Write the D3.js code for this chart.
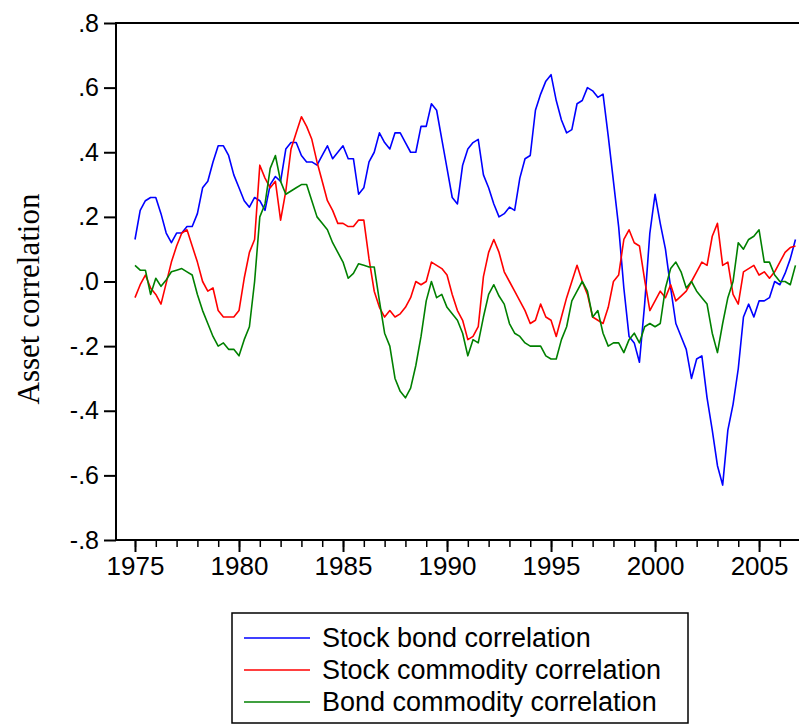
<!DOCTYPE html>
<html>
<head>
<meta charset="utf-8">
<script src="https://cdn.jsdelivr.net/npm/d3@7"></script>
<style>
  body { margin: 0; background: #fff; }
  svg { display: block; }
</style>
</head>
<body>
<script>
// quarterly readings, first value is 1975 Q1
const startYear = 1975;
const stockBond = [
  0.13, 0.22, 0.25, 0.26,  0.26, 0.21, 0.15, 0.12,  0.15, 0.15, 0.17, 0.17,
  0.21, 0.29, 0.31, 0.37,  0.42, 0.42, 0.39, 0.33,  0.29, 0.25, 0.23, 0.26,
  0.25, 0.22, 0.30, 0.325, 0.31, 0.41, 0.43, 0.43,  0.39, 0.37, 0.37, 0.36,
  0.39, 0.42, 0.38, 0.40,  0.42, 0.38, 0.38, 0.27,  0.29, 0.37, 0.40, 0.46,
  0.43, 0.41, 0.46, 0.46,  0.43, 0.40, 0.40, 0.48,  0.48, 0.55, 0.53, 0.44,
  0.35, 0.26, 0.24, 0.36,  0.41, 0.43, 0.44, 0.33,  0.29, 0.24, 0.20, 0.21,
  0.23, 0.22, 0.32, 0.38,  0.39, 0.53, 0.58, 0.62,  0.64, 0.56, 0.50, 0.46,
  0.47, 0.55, 0.56, 0.60,  0.59, 0.57, 0.58, 0.45,  0.31, 0.17, -0.02, -0.17,
  -0.19, -0.25, -0.07, 0.15,  0.27, 0.18, 0.10, -0.02,  -0.13, -0.17, -0.21, -0.30,
  -0.24, -0.23, -0.36, -0.46,  -0.57, -0.63, -0.46, -0.38,  -0.27, -0.11, -0.07, -0.11,
  -0.06, -0.06, -0.05, 0.0,  -0.01, 0.025, 0.07, 0.13
];
const stockCommodity = [
  -0.05, -0.01, 0.02, -0.02,  -0.04, -0.07, -0.005, 0.06,  0.11, 0.15, 0.16, 0.11,
  0.06, 0.0, -0.03, -0.02,  -0.09, -0.11, -0.11, -0.11,  -0.09, 0.01, 0.09, 0.13,
  0.36, 0.32, 0.29, 0.31,  0.19, 0.28, 0.41, 0.46,  0.51, 0.48, 0.44, 0.37,
  0.31, 0.25, 0.22, 0.18,  0.18, 0.17, 0.17, 0.19,  0.19, 0.07, -0.03, -0.08,
  -0.11, -0.09, -0.11, -0.10,  -0.08, -0.05, 0.0, -0.01,  0.0, 0.06, 0.05, 0.04,
  0.02, -0.04, -0.09, -0.12,  -0.18, -0.17, -0.14, 0.015,  0.09, 0.13, 0.09, 0.03,
  0.0, -0.03, -0.06, -0.09,  -0.13, -0.12, -0.07, -0.11,  -0.12, -0.17, -0.11, -0.05,
  0.0, 0.05, 0.0, -0.04,  -0.11, -0.12, -0.13, -0.08,  0.0, 0.02, 0.13, 0.16,
  0.12, 0.11, 0.005, -0.09,  -0.06, -0.03, -0.05, -0.01,  -0.06, -0.045, -0.03, 0.0,
  0.03, 0.06, 0.05, 0.14,  0.18, 0.05, 0.06, -0.04,  -0.07, 0.03, 0.04, 0.05,
  0.02, 0.03, 0.01, 0.03,  0.06, 0.09, 0.105, 0.11
];
const bondCommodity = [
  0.05, 0.035, 0.035, -0.04,  0.01, -0.015, 0.005, 0.03,  0.035, 0.04, 0.03, 0.02,
  -0.04, -0.09, -0.13, -0.17,  -0.20, -0.19, -0.21, -0.21,  -0.23, -0.18, -0.14, 0.0,
  0.20, 0.24, 0.35, 0.39,  0.31, 0.27, 0.28, 0.29,  0.30, 0.30, 0.25, 0.20,
  0.18, 0.16, 0.12, 0.09,  0.06, 0.01, 0.025, 0.055,  0.05, 0.045, 0.045, -0.06,
  -0.16, -0.20, -0.30, -0.34,  -0.36, -0.33, -0.26, -0.17,  -0.06, 0.0, -0.05, -0.04,
  -0.08, -0.10, -0.12, -0.16,  -0.23, -0.18, -0.19, -0.11,  -0.04, -0.01, -0.045, -0.07,
  -0.13, -0.16, -0.17, -0.19,  -0.20, -0.20, -0.20, -0.23,  -0.24, -0.24, -0.18, -0.14,
  -0.06, -0.03, 0.0, -0.03,  -0.11, -0.09, -0.16, -0.20,  -0.19, -0.19, -0.22, -0.18,
  -0.16, -0.19, -0.14, -0.13,  -0.14, -0.13, -0.02, 0.04,  0.06, 0.03, -0.02, 0.0,
  -0.03, -0.05, -0.07, -0.16,  -0.22, -0.13, -0.05, 0.0,  0.12, 0.10, 0.13, 0.14,
  0.16, 0.06, 0.06, 0.02,  0.0, 0.0, -0.01, 0.05
];
const seriesNames = ["Stock bond correlation", "Stock commodity correlation", "Bond commodity correlation"];
const seriesColors = ["#0000ff", "#ff0000", "#008000"];
const yTicks = [0.8, 0.6, 0.4, 0.2, 0.0, -0.2, -0.4, -0.6, -0.8];
const yTickLabels = [".8", ".6", ".4", ".2", ".0", "-.2", "-.4", "-.6", "-.8"];
const xMajor = [1975, 1980, 1985, 1990, 1995, 2000, 2005];

const width = 799, height = 724;
const plotLeft = 116, plotTop = 23, plotBottom = 540, plotRight = 799;

const svg = d3.select("body").append("svg")
  .attr("width", width)
  .attr("height", height);

const x = d3.scaleLinear().domain([1974.087, 2006.92]).range([plotLeft, plotRight]);
const y = d3.scaleLinear().domain([-0.8, 0.8]).range([plotBottom, plotTop]);

// lines first, frame drawn over them
const line = d3.line()
  .x((d, i) => x(startYear + i / 4))
  .y(d => y(d));

[stockBond, stockCommodity, bondCommodity].forEach(function (s, k) {
  svg.append("path")
    .datum(s)
    .attr("fill", "none")
    .attr("stroke", seriesColors[k])
    .attr("stroke-width", 1.6)
    .attr("stroke-linejoin", "round")
    .attr("d", line);
});

svg.append("rect")
  .attr("x", plotLeft).attr("y", plotTop)
  .attr("width", plotRight - plotLeft + 4).attr("height", plotBottom - plotTop)
  .attr("fill", "none").attr("stroke", "#000").attr("stroke-width", 2);

// y axis
const yAxis = d3.axisLeft(y)
  .tickValues(yTicks)
  .tickSize(12)
  .tickPadding(5)
  .tickFormat((d, i) => yTickLabels[i]);

const gy = svg.append("g")
  .attr("transform", "translate(" + plotLeft + ",0)")
  .call(yAxis);
gy.select(".domain").remove();
gy.selectAll("line").attr("stroke-width", 2);
gy.selectAll("text")
  .attr("font-family", "Liberation Sans, Arial, sans-serif")
  .attr("font-size", 25)
  .attr("fill", "#000");

// x axis, minor year ticks then labelled 5-year ticks
const years = d3.range(1975, 2007);
const gxMinor = svg.append("g")
  .attr("transform", "translate(0," + plotBottom + ")")
  .call(d3.axisBottom(x).tickValues(years).tickSize(7).tickFormat(""));
gxMinor.select(".domain").remove();
gxMinor.selectAll("line").attr("stroke-width", 1.5);

const gx = svg.append("g")
  .attr("transform", "translate(0," + plotBottom + ")")
  .call(d3.axisBottom(x).tickValues(xMajor).tickSize(12).tickPadding(5).tickFormat(d3.format("d")));
gx.select(".domain").remove();
gx.selectAll("line").attr("stroke-width", 2);
gx.selectAll("text")
  .attr("font-family", "Liberation Sans, Arial, sans-serif")
  .attr("font-size", 26)
  .attr("fill", "#000");

// axis title
svg.append("text")
  .attr("transform", "translate(39,299) rotate(-90)")
  .attr("text-anchor", "middle")
  .attr("font-family", "Liberation Serif, Times New Roman, serif")
  .attr("font-size", 31)
  .text("Asset correlation");

// legend
const legend = svg.append("g");
legend.append("rect")
  .attr("x", 232).attr("y", 613)
  .attr("width", 456).attr("height", 110)
  .attr("fill", "none").attr("stroke", "#000").attr("stroke-width", 1.5);

seriesNames.forEach(function (name, k) {
  const ly = 638 + k * 32;
  legend.append("line")
    .attr("x1", 244).attr("x2", 310)
    .attr("y1", ly).attr("y2", ly)
    .attr("stroke", seriesColors[k]).attr("stroke-width", 1.6);
  legend.append("text")
    .attr("x", 322).attr("y", ly + 9)
    .attr("font-family", "Liberation Sans, Arial, sans-serif")
    .attr("font-size", 27)
    .text(name);
});
</script>
</body>
</html>
